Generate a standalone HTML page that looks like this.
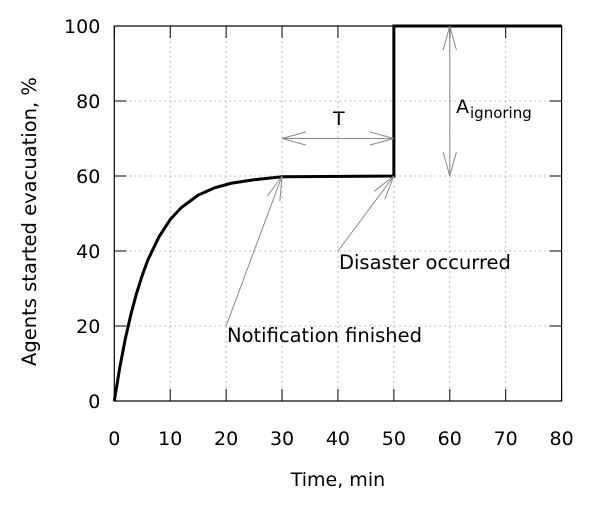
<!DOCTYPE html>
<html><head><meta charset="utf-8"><style>
body{margin:0;background:#fff}
svg text{font-family:"DejaVu Sans","Liberation Sans",sans-serif;fill:#000}
</style></head><body>
<svg id="chart" width="600" height="500" xmlns="http://www.w3.org/2000/svg"></svg>
<script>
const xTicks=[0,10,20,30,40,50,60,70,80];
const yTicks=[0,20,40,60,80,100];
const seriesT=[0,1,2,3,4,5,6,8,10,12,15,18,21,25,30,50,50,80];
const seriesV=[0,9.1,16.8,23.3,28.8,33.5,37.6,43.8,48.4,51.6,54.9,56.9,58.1,59.0,59.8,60,100,100];
const L=114.3,R=561.6,T=26,B=401;
const sx=v=>L+(v/80)*(R-L), sy=v=>B-(v/100)*(B-T);
const svg=document.getElementById('chart');const NS='http://www.w3.org/2000/svg';
function mk(tag,attrs,txt){const e=document.createElementNS(NS,tag);for(const k in attrs)e.setAttribute(k,attrs[k]);if(txt!==undefined)e.textContent=txt;svg.appendChild(e);return e;}
xTicks.forEach(v=>{if(v>0&&v<80){const g=mk('line',{x1:sx(v),x2:sx(v),y1:T,y2:B,stroke:'#bbb','stroke-dasharray':'2,3'});

}});
yTicks.forEach(v=>{if(v>0&&v<100){const g=mk('line',{x1:L,x2:R,y1:sy(v),y2:sy(v),stroke:'#bbb','stroke-dasharray':'2,3'});

}});
const fr=mk('rect',{x:L,y:T,width:R-L,height:B-T,fill:'none',stroke:'#000','stroke-width':1.2});


xTicks.forEach(v=>{
 mk('line',{x1:sx(v),x2:sx(v),y1:B,y2:B-12,stroke:'#000'});mk('line',{x1:sx(v),x2:sx(v),y1:T,y2:T+12,stroke:'#000'});
 const t=mk('text',{x:sx(v),y:B+44,'text-anchor':'middle','font-size':19},v);
 
 
});
yTicks.forEach(v=>{
 mk('line',{x1:L,x2:L+12,y1:sy(v),y2:sy(v),stroke:'#000'});mk('line',{x1:R,x2:R-12,y1:sy(v),y2:sy(v),stroke:'#000'});
 const t=mk('text',{x:L-14,y:sy(v)+7,'text-anchor':'end','font-size':19},v);
 
 
});
const xt=mk('text',{x:(L+R)/2,y:486,'text-anchor':'middle','font-size':19},'Time, min');


const yt=mk('text',{x:0,y:0,'text-anchor':'middle','font-size':19.5,transform:`translate(36,${(T+B)/2+8}) rotate(-90)`},'Agents started evacuation, %');


const p=mk('polyline',{points:seriesT.map((t,i)=>sx(t)+','+sy(seriesV[i])).join(' '),fill:'none',stroke:'#000','stroke-width':3,'stroke-linejoin':'miter'});


function arrow(x1,y1,x2,y2,both,name){
 const g=[];const c='#888';
 g.push(mk('line',{x1,y1,x2,y2,stroke:c}));
 const head=(ax,ay,bx,by)=>{const a=Math.atan2(ay-by,ax-bx),l=25,d=0.27;
  g.push(mk('line',{x1:ax,y1:ay,x2:ax-l*Math.cos(a-d),y2:ay-l*Math.sin(a-d),stroke:c}));
  g.push(mk('line',{x1:ax,y1:ay,x2:ax-l*Math.cos(a+d),y2:ay-l*Math.sin(a+d),stroke:c}));};
 head(x2,y2,x1,y1);if(both)head(x1,y1,x2,y2);
 g.forEach(e=>{
 });
}
arrow(sx(30),sy(70),sx(50),sy(70),true,'t-arrow');
arrow(sx(60),sy(100),sx(60),sy(60),true,'a-ignoring-arrow');
arrow(sx(20),sy(20),sx(30),sy(60),false,'notification-arrow');
arrow(sx(40),sy(40),sx(50),sy(60),false,'disaster-arrow');
const t1=mk('text',{x:333,y:125,'font-size':19},'T');


const t2=mk('text',{x:456,y:113,'font-size':19},'A');


const t2s=mk('text',{x:470,y:118,'font-size':15},'ignoring');


const t3=mk('text',{x:339,y:269,'font-size':19.5},'Disaster occurred');


const t4=mk('text',{x:227,y:342,'font-size':19.5},'Notification finished');


</script>
</body></html>
